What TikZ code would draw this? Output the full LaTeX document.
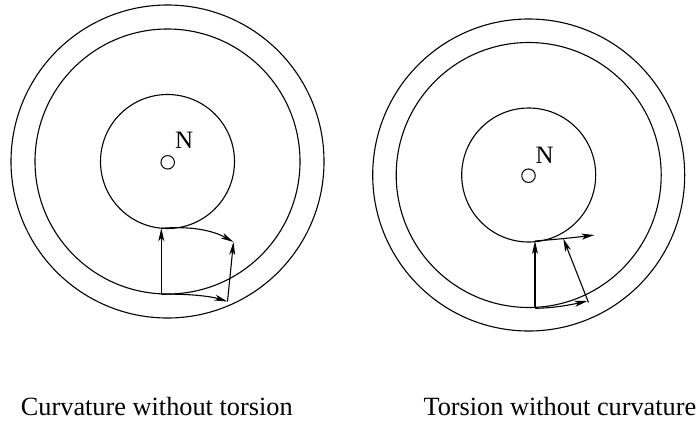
\documentclass[tikz,border=0pt]{standalone}
\usepackage{fontspec}
\setmainfont{Liberation Serif}
\usetikzlibrary{arrows.meta}
\tikzset{
  ring/.style={line width=1.1pt},
  vec/.style={-{Stealth[length=13pt,width=6pt,inset=3.5pt]}, line width=1.1pt},
  pole/.style={circle, draw, line width=1pt, minimum size=13.5pt, inner sep=0pt},
  plab/.style={font=\fontsize{25}{25}\selectfont, anchor=base west, inner sep=0pt},
  capt/.style={font=\fontsize{26.3}{30}\selectfont, anchor=base west, inner sep=0pt},
}

\begin{document}
\begin{tikzpicture}[x=1pt, y=-1pt]
  \useasboundingbox (0,0) rectangle (700,426);

  % curvature without torsion
  \coordinate (c1) at (167.5,161.5);
  \draw[ring] (c1) circle[radius=156.5];
  \draw[ring] (c1) circle[radius=132.5];
  \draw[ring] (c1) circle[radius=67];
  \node[pole] (n1) at (167.7,162.3) {};
  \node[plab] (l1) at (175,148.5) {N};

  \coordinate (a1) at (161.3,228.3);
  \coordinate (b1) at (161.3,294.3);
  \coordinate (t1) at (233.5,242);
  \coordinate (p1) at (227.5,301.5);
  \draw[vec] (b1) -- (a1);
  \draw[vec] (a1) .. controls (190,226) and (212,230) .. (t1);
  \draw[vec] (b1) .. controls (185,293.5) and (210,296) .. (p1);
  \draw[vec] (p1) -- (t1);

  % torsion without curvature
  \coordinate (c2) at (528.7,175);
  \draw[ring] (c2) circle[radius=156];
  \draw[ring] (c2) circle[radius=132.5];
  \draw[ring] (c2) circle[radius=67];
  \node[pole] (n2) at (528.5,175.7) {};
  \node[plab] (l2) at (535.5,163) {N};

  \coordinate (a2) at (535,241);
  \coordinate (b2) at (535,308.3);
  \coordinate (t2) at (594.5,235);
  \coordinate (m2) at (563.3,238.6);
  \coordinate (p2) at (587.5,301);
  \coordinate (q2) at (588.5,302.5);
  \draw[vec] (b2) -- (a2);
  \draw[vec] (a2) .. controls (555,239.5) and (575,237.5) .. (t2);
  \draw[vec] (b2) .. controls (555,308) and (572,304.5) .. (p2);
  \draw[vec] (q2) -- (m2);

  \node[capt] (cap1) at (20.7,415) {Curvature without torsion};
  \node[capt] (cap2) at (423.3,415) {Torsion without curvature};
\end{tikzpicture}
\end{document}
